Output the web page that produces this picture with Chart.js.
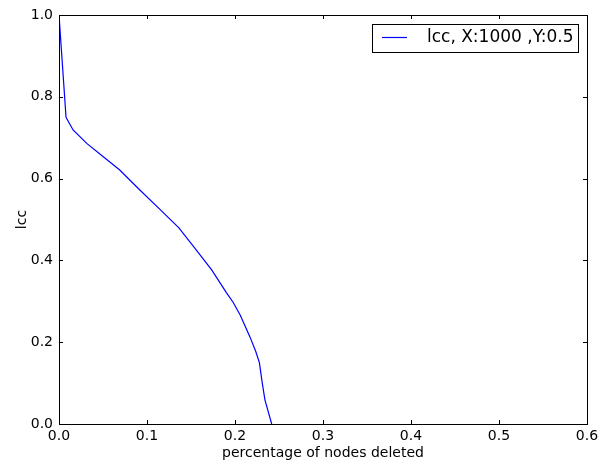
<!DOCTYPE html>
<html>
<head>
<meta charset="utf-8">
<script src="https://cdn.jsdelivr.net/npm/chart.js@4"></script>
<style>
  html, body { margin: 0; padding: 0; background: #fff; }
  #wrap { width: 608px; height: 464px; }
</style>
</head>
<body>
<div id="wrap"><canvas id="chart" width="608" height="464"></canvas></div>
<script>
// data
const xValues = [0, 0.008, 0.016, 0.0315, 0.05, 0.069, 0.091, 0.115, 0.136, 0.155, 0.1735, 0.19, 0.198, 0.206, 0.217, 0.2235, 0.2277, 0.231, 0.234, 0.2417];
const lccValues = [1.0, 0.750, 0.719, 0.686, 0.654, 0.621, 0.574, 0.524, 0.480, 0.428, 0.377, 0.322, 0.297, 0.266, 0.213, 0.178, 0.150, 0.10, 0.059, 0.0];
const xTicks = [0, 0.1, 0.2, 0.3, 0.4, 0.5, 0.6];
const yTicks = [0, 0.2, 0.4, 0.6, 0.8, 1.0];
const seriesLabel = "lcc, X:1000 ,Y:0.5";

const FONT = "DejaVu Sans";

// matplotlib-style frame, inward ticks and legend box
const mplFrame = {
  id: "mplFrame",
  afterDraw(chart){
    const c = chart.ctx, a = chart.chartArea;
    const xs = chart.scales.x, ys = chart.scales.y;
    c.save();
    c.strokeStyle = "#000";
    c.lineWidth = 1;
    c.strokeRect(Math.round(a.left)+0.5, Math.round(a.top)+0.5, Math.round(a.right-a.left), Math.round(a.bottom-a.top));
    c.beginPath();
    xTicks.forEach(v=>{
      const px = Math.round(xs.getPixelForValue(v))+0.5;
      c.moveTo(px, a.bottom); c.lineTo(px, a.bottom-4);
      c.moveTo(px, a.top); c.lineTo(px, a.top+4);
    });
    yTicks.forEach(v=>{
      const py = Math.round(ys.getPixelForValue(v))+0.5;
      c.moveTo(a.left, py); c.lineTo(a.left+4, py);
      c.moveTo(a.right, py); c.lineTo(a.right-4, py);
    });
    c.stroke();

    // legend
    const bx = 372.5, by = 24.5, bw = 206, bh = 28;
    c.fillStyle = "#fff";
    c.fillRect(bx, by, bw, bh);
    c.strokeRect(bx, by, bw, bh);
    c.strokeStyle = "#0000ff";
    c.lineWidth = 1.2;
    c.beginPath();
    c.moveTo(382, 37.5); c.lineTo(407, 37.5);
    c.stroke();
    c.fillStyle = "#000";
    c.font = "17px '" + FONT + "'";
    c.textBaseline = "middle";
    c.textAlign = "left";
    c.fillText(chart.data.datasets[0].label, 427, 38);
    c.restore();
  }
};

const ctx = document.getElementById("chart").getContext("2d");
new Chart(ctx, {
  type: "line",
  data: {
    datasets: [{
      label: seriesLabel,
      data: xValues.map((x,i)=>({x, y: lccValues[i]})),
      borderColor: "#0000ff",
      borderWidth: 1.2,
      pointRadius: 0,
      tension: 0,
      fill: false
    }]
  },
  options: {
    responsive: false,
    animation: false,
    layout: { padding: { top: 15, right: 21, left: 0, bottom: 0 } },
    plugins: { legend: { display: false }, tooltip: { enabled: false } },
    scales: {
      x: {
        type: "linear", min: 0, max: 0.6,
        afterBuildTicks(s){ s.ticks = xTicks.map(v=>({value:v})); },
        afterFit(s){ s.height = 40; },
        grid: { display: false, drawTicks: false },
        border: { display: false },
        ticks: {
          color: "#000", padding: 4, maxRotation: 0,
          font: { family: FONT, size: 14 },
          callback: v => v.toFixed(1)
        },
        title: {
          display: true, text: "percentage of nodes deleted", color: "#000",
          font: { family: FONT, size: 14 }, padding: { top: 0, bottom: 2 }
        }
      },
      y: {
        type: "linear", min: 0, max: 1.0,
        afterBuildTicks(s){ s.ticks = yTicks.map(v=>({value:v})); },
        afterFit(s){ s.width = 59; },
        grid: { display: false, drawTicks: false },
        border: { display: false },
        ticks: {
          color: "#000", padding: 6,
          font: { family: FONT, size: 14 },
          callback: v => v.toFixed(1)
        },
        title: {
          display: true, text: "lcc", color: "#000",
          font: { family: FONT, size: 14 }, padding: { top: 14, bottom: 4 }
        }
      }
    }
  },
  plugins: [mplFrame]
});
</script>
</body>
</html>
